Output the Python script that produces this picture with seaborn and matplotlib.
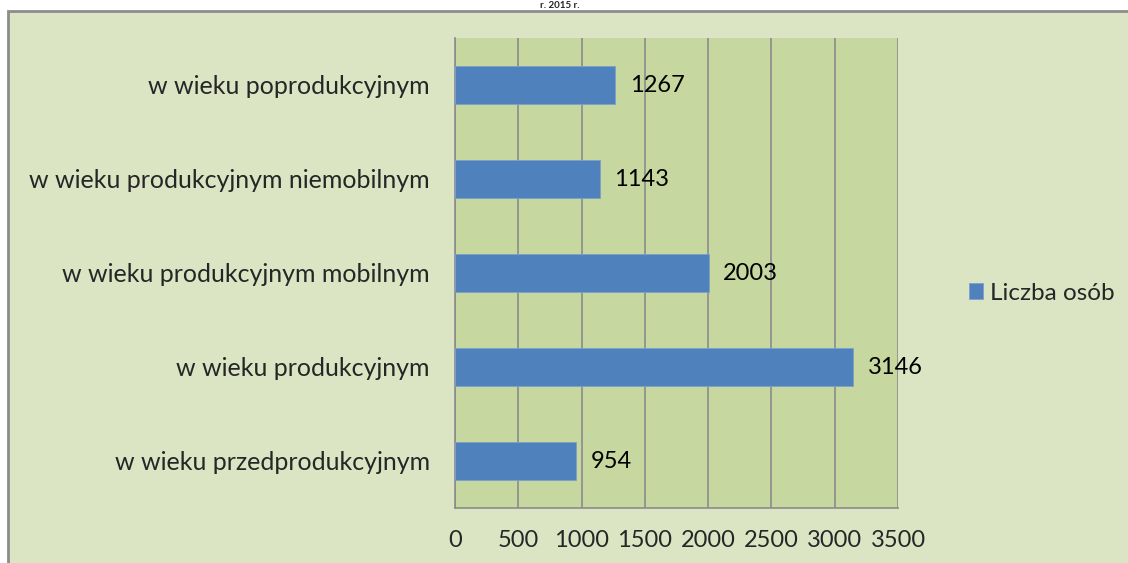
import matplotlib
matplotlib.use("Agg")
import matplotlib.pyplot as plt
import seaborn as sb
import pandas as pd
from matplotlib.patches import Rectangle

# dane z wykresu
kategorie = ["w wieku poprodukcyjnym",
             "w wieku produkcyjnym niemobilnym",
             "w wieku produkcyjnym mobilnym",
             "w wieku produkcyjnym",
             "w wieku przedprodukcyjnym"]
liczba_osob = [1267, 1143, 2003, 3146, 954]
x_ticks = [0, 500, 1000, 1500, 2000, 2500, 3000, 3500]
seria = "Liczba osób"
tytul = "r. 2015 r."

df = pd.DataFrame({"Kategoria": kategorie, seria: liczba_osob})

sb.set_style("white")
plt.rcParams['font.family'] = ['Lato', 'DejaVu Sans']

tlo = "#DBE5C4"
pole = "#C6D79F"
niebieski = "#4F81BD"
szary = "#8C8C8C"
fs = 17

fig = plt.figure(figsize=(11.28, 5.63), dpi=100)
fig.patch.set_facecolor("white")
# ramka wykresu
fig.patches.append(Rectangle((8/1128, -0.01), 1.2, (563 - 11) / 563 + 0.01,
                             transform=fig.transFigure, facecolor=tlo,
                             edgecolor=szary, linewidth=2, zorder=-5))
fig.text(560/1128, 1.0 - 1/563, tytul, ha="center", va="top",
         fontsize=7, fontweight="bold", color="#222222")

ax = fig.add_axes([455/1128, 55/563, 443/1128, 470/563])
ax.set_facecolor(pole)
sb.barplot(data=df, x=seria, y="Kategoria", orient="h", color=niebieski,
           width=0.4, saturation=1, ax=ax, label=seria, zorder=3,
           edgecolor="#7FA0CC", linewidth=0.6)

for i, v in enumerate(liczba_osob):
    ax.text(v + 115, i, str(v), va="center", ha="left", fontsize=fs,
            color="black", zorder=4)

ax.set_xlim(0, 3500)
ax.set_ylim(4.5, -0.5)
ax.set_xticks(x_ticks)
ax.set_xticklabels([str(t) for t in x_ticks], fontsize=fs)
ax.set_yticks(range(len(kategorie)))
ax.set_yticklabels(kategorie, fontsize=18)
ax.tick_params(axis="y", length=0, pad=18)
ax.tick_params(axis="x", length=6, color=szary, width=1.2, pad=10)
# znaczniki osi y na granicach kategorii
ax.set_yticks([i - 0.5 for i in range(len(kategorie) + 1)], minor=True)
ax.tick_params(axis="y", which="minor", length=6, color=szary, width=1.2)
ax.grid(axis="x", color=szary, linewidth=1.2, zorder=1)
ax.set_axisbelow(True)
for s in ["top", "right"]:
    ax.spines[s].set_visible(False)
for s in ["left", "bottom"]:
    ax.spines[s].set_color(szary)
    ax.spines[s].set_linewidth(1.2)
ax.set_xlabel("")
ax.set_ylabel("")

leg = ax.legend(loc="center left", bbox_to_anchor=(1.11, 0.457), frameon=False,
                fontsize=17.5, handlelength=0.6, handleheight=0.6,
                handletextpad=0.3)

fig.savefig("out.png", dpi=100, facecolor=fig.get_facecolor())
